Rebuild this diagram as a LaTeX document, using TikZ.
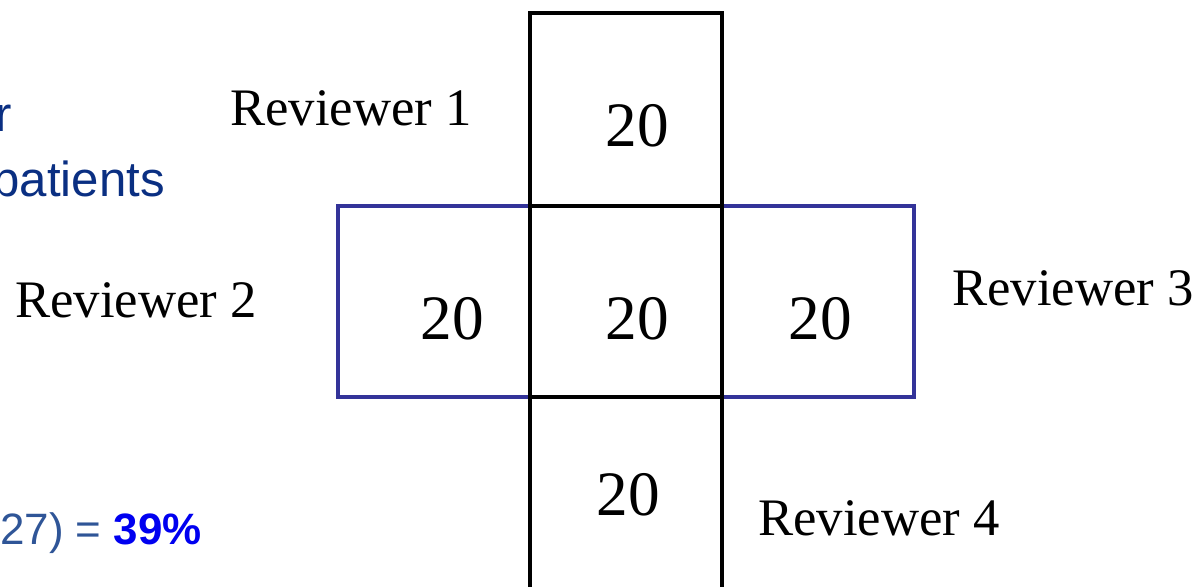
\documentclass[tikz,border=0pt]{standalone}
\usepackage{fontspec}
\setmainfont{Liberation Serif}
\newfontfamily\slidefont{Liberation Sans}
\usetikzlibrary{positioning}
\definecolor{mNavy}{HTML}{0A2F82}
\definecolor{mSlate}{HTML}{2F5597}
\definecolor{mBlue}{HTML}{0000F0}
\definecolor{mFrame}{HTML}{333399}
\tikzset{
  revlabel/.style={anchor=base west, inner sep=0pt, font=\fontsize{30}{35}\selectfont},
  count/.style={anchor=base, inner sep=0pt, font=\fontsize{36}{42}\selectfont},
  slidetext/.style={anchor=base west, inner sep=0pt, font=\slidefont\fontsize{28}{33}\selectfont}
}

\begin{document}
\begin{tikzpicture}[x=0.02cm, y=-0.02cm]
    \useasboundingbox (0,0) rectangle (1198,587);
    % left-hand slide text (cut off by the frame)
    \node[slidetext, mNavy] (restA) at (-5,132) {r};
    \node[slidetext, mNavy] (restB) at (-8,197) {patients};
    \node[slidetext, font=\slidefont\fontsize{25}{30}\selectfont, mSlate] (result) at (0,545) {27) = \textcolor{mBlue}{\bfseries 39\%}};
    % the cross of overlapping reviews
    \draw[mFrame, line width=2.8pt] (338,206) rectangle (914,397);
    \draw[black, line width=2.3pt] (530,13) rectangle (722,620);
    \draw[black, line width=2.3pt] (530,206) -- (722,206) (530,397) -- (722,397);
    \node[count] (top) at (637,147) {20};
    \node[count] (left) at (452,340) {20};
    \node[count] (mid) at (637,340) {20};
    \node[count] (right) at (820,340) {20};
    \node[count] (bottom) at (628,516) {20};
    \node[revlabel] (rev1) at (230,126) {Reviewer 1};
    \node[revlabel] (rev2) at (15,318) {Reviewer 2};
    \node[revlabel] (rev3) at (952,306) {Reviewer 3};
    \node[revlabel] (rev4) at (758,536) {Reviewer 4};
  \end{tikzpicture}
\end{document}
